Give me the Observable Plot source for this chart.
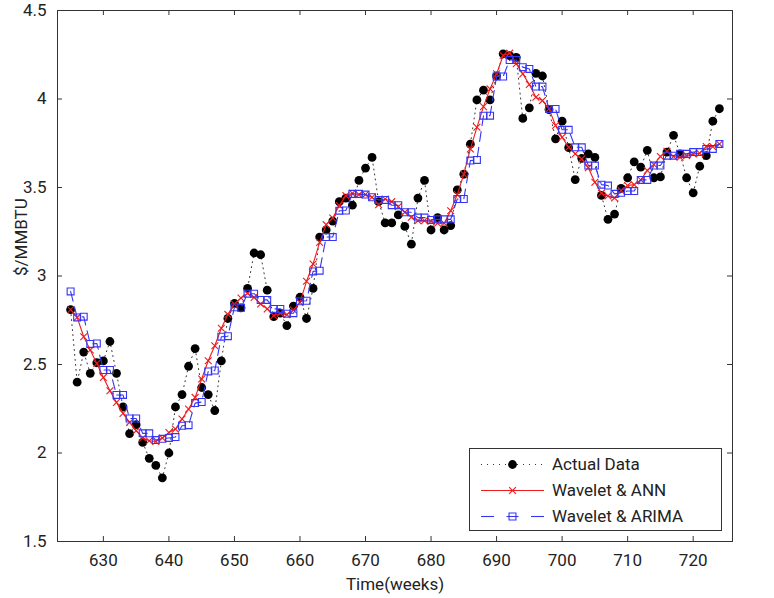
<!DOCTYPE html>
<html>
<head>
<meta charset="utf-8">
<script src="https://cdn.jsdelivr.net/npm/d3@7"></script>
<script src="https://cdn.jsdelivr.net/npm/@observablehq/plot@0.6"></script>
<style>
  body { margin: 0; background: #fff; }
  svg { display: block; }
</style>
</head>
<body>
<div id="chart"></div>
<script>
// Weekly natural gas price ($/MMBTU), weeks 625–724
const weeks = d3.range(625, 725);

const actual = [
  2.81, 2.40, 2.57, 2.45, 2.51, 2.52, 2.63, 2.45, 2.26, 2.11,
  2.16, 2.06, 1.97, 1.93, 1.86, 2.00, 2.26, 2.33, 2.49, 2.59,
  2.37, 2.33, 2.24, 2.52, 2.76, 2.845, 2.82, 2.93, 3.13, 3.12,
  2.92, 2.77, 2.79, 2.72, 2.83, 2.88, 2.76, 2.93, 3.22, 3.26,
  3.31, 3.42, 3.44, 3.40, 3.54, 3.61, 3.67, 3.42, 3.30, 3.30,
  3.345, 3.28, 3.18, 3.44, 3.54, 3.26, 3.33, 3.26, 3.285, 3.486,
  3.575, 3.745, 3.995, 4.05, 3.995, 4.13, 4.255, 4.245, 4.235, 3.89,
  3.95, 4.145, 4.13, 3.94, 3.775, 3.875, 3.725, 3.545, 3.665, 3.69,
  3.67, 3.455, 3.32, 3.35, 3.495, 3.555, 3.645, 3.615, 3.71, 3.555,
  3.56, 3.70, 3.795, 3.69, 3.555, 3.47, 3.62, 3.68, 3.875, 3.945
];

const waveletAnn = [
  2.81, 2.766, 2.657, 2.582, 2.506, 2.427, 2.352, 2.286, 2.224, 2.173,
  2.126, 2.085, 2.069, 2.065, 2.085, 2.116, 2.135, 2.192, 2.248, 2.314,
  2.418, 2.521, 2.606, 2.705, 2.783, 2.842, 2.876, 2.902, 2.879, 2.842,
  2.814, 2.776, 2.789, 2.782, 2.808, 2.851, 2.97, 3.068, 3.19, 3.29,
  3.328, 3.398, 3.454, 3.467, 3.46, 3.46, 3.445, 3.403, 3.435, 3.42,
  3.392, 3.36, 3.332, 3.313, 3.313, 3.309, 3.298, 3.298, 3.369, 3.46,
  3.575, 3.718, 3.84, 3.957, 4.057, 4.142, 4.246, 4.259, 4.199, 4.142,
  4.082, 4.01, 3.991, 3.944, 3.85, 3.784, 3.727, 3.69, 3.662, 3.612,
  3.53, 3.468, 3.452, 3.441, 3.483, 3.511, 3.516, 3.543, 3.596, 3.63,
  3.675, 3.705, 3.675, 3.671, 3.68, 3.69, 3.693, 3.731, 3.731, 3.746
];

const waveletArima = [
  2.913, 2.766, 2.77, 2.616, 2.619, 2.469, 2.469, 2.328, 2.328, 2.195,
  2.195, 2.111, 2.111, 2.073, 2.08, 2.085, 2.09, 2.154, 2.157, 2.282,
  2.288, 2.461, 2.466, 2.657, 2.66, 2.823, 2.82, 2.90, 2.90, 2.865,
  2.865, 2.814, 2.814, 2.787, 2.79, 2.857, 2.86, 3.026, 3.03, 3.22,
  3.22, 3.369, 3.37, 3.464, 3.464, 3.46, 3.445, 3.43, 3.43, 3.40,
  3.40, 3.36, 3.36, 3.33, 3.33, 3.317, 3.32, 3.32, 3.32, 3.435,
  3.435, 3.652, 3.656, 3.906, 3.906, 4.127, 4.127, 4.22, 4.22, 4.18,
  4.17, 4.07, 4.07, 3.944, 3.944, 3.826, 3.826, 3.727, 3.727, 3.624,
  3.624, 3.516, 3.511, 3.464, 3.47, 3.48, 3.48, 3.543, 3.543, 3.624,
  3.624, 3.68, 3.68, 3.69, 3.69, 3.70, 3.70, 3.718, 3.718, 3.746
];

const xTicks = [630, 640, 650, 660, 670, 680, 690, 700, 710, 720];
const yTicks = [1.5, 2, 2.5, 3, 3.5, 4, 4.5];

const seriesNames = ["Actual Data", "Wavelet & ANN", "Wavelet & ARIMA"];

const rows = weeks.map((w, i) => ({
  week: w,
  actual: actual[i],
  ann: waveletAnn[i],
  arima: waveletArima[i]
}));

// Layout
const W = 774, H = 598;
const mL = 57, mR = 42, mT = 10, mB = 57;
const plotW = W - mL - mR, plotH = H - mT - mB;
const tickLen = 5;

const RED = "#ee1c1c";
const BLUE = "#3535f5";
const FONT = "Roboto, 'Liberation Sans', sans-serif";

const chart = Plot.plot({
  width: W,
  height: H,
  marginLeft: mL,
  marginRight: mR,
  marginTop: mT,
  marginBottom: mB,
  style: { fontFamily: FONT, fontSize: "17px", background: "#fff", color: "#222" },
  x: { domain: [623, 726], label: null },
  y: { domain: [1.5, 4.5], label: null },
  marks: [
    // tick labels
    Plot.axisX(xTicks, { tickSize: 0, tickPadding: 12, tickFormat: d => `${d}`, label: null, fontSize: 17 }),
    Plot.axisY(yTicks, { tickSize: 0, tickPadding: 11, tickFormat: d => `${d}`, label: null, fontSize: 17 }),
    // inward ticks on all four sides
    Plot.tickX(xTicks, { x: d => d, insetTop: plotH - tickLen, stroke: "#333" }),
    Plot.tickX(xTicks, { x: d => d, insetBottom: plotH - tickLen, stroke: "#333" }),
    Plot.tickY(yTicks, { y: d => d, insetRight: plotW - tickLen, stroke: "#333" }),
    Plot.tickY(yTicks, { y: d => d, insetLeft: plotW - tickLen, stroke: "#333" }),
    // axis titles
    Plot.text(["Time(weeks)"], { frameAnchor: "bottom", dy: 48, fontSize: 17, fill: "#222" }),
    Plot.text(["$/MMBTU"], { frameAnchor: "left", dx: -36, rotate: -90, fontSize: 17, fill: "#222" }),

    // Actual Data: dotted line + filled circles
    Plot.line(rows, { x: "week", y: "actual", stroke: "#333", strokeWidth: 1, strokeDasharray: "1,4" }),
    Plot.dot(rows, { x: "week", y: "actual", r: 4.4, fill: "#000", stroke: "none" }),

    // Wavelet & ANN: solid red with x markers
    Plot.line(rows, { x: "week", y: "ann", stroke: RED, strokeWidth: 1.1 }),
    Plot.dot(rows, { x: "week", y: "ann", symbol: "times", r: 3.2, stroke: RED, fill: "none", strokeWidth: 1.1 }),

    // Wavelet & ARIMA: dashed blue with open squares
    Plot.line(rows, { x: "week", y: "arima", stroke: BLUE, strokeWidth: 1.1, strokeDasharray: "10,6" }),
    Plot.dot(rows, { x: "week", y: "arima", symbol: "square", r: 3.9, stroke: BLUE, fill: "none", strokeWidth: 1.1 }),

    Plot.frame({ stroke: "#333", strokeWidth: 1 })
  ]
});

// Legend box inside the plot area, lower right
const svg = d3.select(chart);
const lg = svg.append("g")
  .attr("font-family", FONT)
  .attr("font-size", 17)
  .attr("fill", "#222")
  .attr("text-anchor", "start");
const boxX = 469.5, boxY = 448.5, boxW = 252, boxH = 82;
lg.append("rect").attr("x", boxX).attr("y", boxY).attr("width", boxW).attr("height", boxH)
  .attr("fill", "#fff").attr("stroke", "#333").attr("stroke-width", 1);

const rowY = [464.5, 490.5, 516.5];
const sx0 = 481, sx1 = 544, smid = 512.5, tx = 552;

// Actual Data
lg.append("line").attr("x1", sx0).attr("x2", sx1).attr("y1", rowY[0]).attr("y2", rowY[0])
  .attr("stroke", "#333").attr("stroke-dasharray", "1,5");
lg.append("circle").attr("cx", smid).attr("cy", rowY[0]).attr("r", 4.4).attr("fill", "#000");
// Wavelet & ANN
lg.append("line").attr("x1", sx0).attr("x2", sx1).attr("y1", rowY[1]).attr("y2", rowY[1])
  .attr("stroke", RED).attr("stroke-width", 1.1);
lg.append("path").attr("transform", `translate(${smid},${rowY[1]})`)
  .attr("d", d3.symbol(d3.symbolTimes, Math.PI * 3.2 * 3.2)())
  .attr("fill", "none").attr("stroke", RED).attr("stroke-width", 1.1);
// Wavelet & ARIMA: dash, square with a dash through it, dash
[[sx0, sx0 + 13], [smid - 6, smid + 6], [sx1 - 13, sx1]].forEach(([a, b]) => {
  lg.append("line").attr("x1", a).attr("x2", b).attr("y1", rowY[2]).attr("y2", rowY[2])
    .attr("stroke", BLUE).attr("stroke-width", 1.1);
});
lg.append("path").attr("transform", `translate(${smid},${rowY[2]})`)
  .attr("d", d3.symbol(d3.symbolSquare, Math.PI * 3.9 * 3.9)())
  .attr("fill", "none").attr("stroke", BLUE).attr("stroke-width", 1.1);

seriesNames.forEach((name, i) => {
  lg.append("text")
    .attr("x", tx)
    .attr("y", rowY[i])
    .attr("dy", "0.35em")
    .attr("text-anchor", "start")
    .text(name);
});

document.getElementById("chart").appendChild(chart);
</script>
</body>
</html>
